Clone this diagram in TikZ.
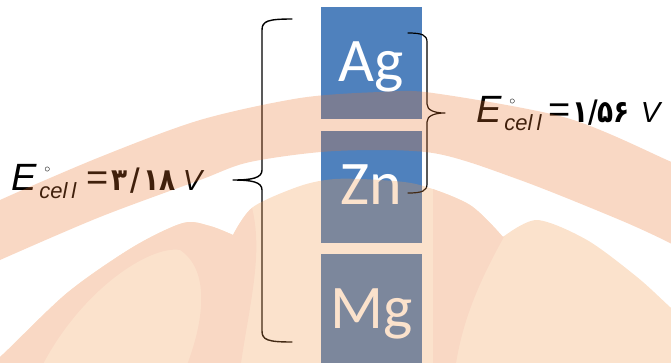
\documentclass[tikz,border=0pt]{standalone}
\usepackage{fontspec}
\setmainfont{Liberation Sans}
\newfontfamily\boxfont{Carlito}
\newfontfamily\arabicfont[Script=Arabic]{DejaVu Sans}
\usetikzlibrary{positioning}

\definecolor{cellblue}{RGB}{79,129,189}
\definecolor{wmdark}{RGB}{233,116,44}
\definecolor{wmlight}{RGB}{241,151,73}

\tikzset{
	metal/.style={fill=cellblue, minimum width=101bp, minimum height=112bp, inner sep=0pt},
	symb/.style={text=white, font=\boxfont\fontsize{62bp}{62bp}\selectfont, inner sep=0pt, anchor=base},
	brace/.style={line width=1.4bp, line cap=round, line join=round},
	elabel/.style={anchor=base west, inner sep=0pt, font=\fontsize{38bp}{38bp}\selectfont},
}

\newcommand{\Ecell}{\textit{E}\hspace{2bp}\rlap{\hspace{5bp}\raisebox{18bp}{\fontsize{12bp}{12bp}\selectfont$\circ$}}\raisebox{-8bp}{\fontsize{22bp}{22bp}\selectfont\textit{cel\hspace{4bp}l}}}
\newcommand{\volt}[1]{\scalebox{0.85}[1]{\fontsize{31bp}{31bp}\selectfont\arabicfont\bfseries #1}}
\newcommand{\unitV}{{\fontsize{29bp}{29bp}\selectfont\textit{V}}}

\begin{document}
\begin{tikzpicture}[x=1bp, y=-1bp]
	\useasboundingbox (0,0) rectangle (671,362);
	
	% three metals, stacked
	\foreach \el/\yc in {Ag/63, Zn/186.5, Mg/310} {
		\node (\el) [metal] at (371.5,\yc) {};
		\node (\el-txt) [symb] at ([yshift=-18bp]\el.center) {\el};
	}
	
	% big brace: Ag ... Mg
	\coordinate (lb-top) at (292,19);
	\coordinate (lb-tip) at (233,180);
	\coordinate (lb-bot) at (292,342);
	\draw[brace] (lb-top) .. controls (268,19) and (262,21) .. (262,30) -- (262,170)
		.. controls (262,178) and (252,180) .. (lb-tip)
		.. controls (252,180) and (262,182) .. (262,190) -- (262,331)
		.. controls (262,340) and (268,342) .. (lb-bot);
	
	% small brace: Ag ... Zn
	\coordinate (rb-top) at (408,33);
	\coordinate (rb-tip) at (445,113);
	\coordinate (rb-bot) at (408,193);
	\draw[brace, line width=1.2bp] (rb-top) .. controls (422,33) and (427,35) .. (427,42) -- (427,104)
		.. controls (427,110) and (434,113) .. (rb-tip)
		.. controls (434,113) and (427,116) .. (427,122) -- (427,184)
		.. controls (427,191) and (422,193) .. (rb-bot);
	
	% the two cell voltages
	\node (e-big) [elabel] at (11.5,190) {\Ecell\hspace{10bp}=\hspace{2bp}\volt{۳\hspace{4bp}/\hspace{4bp}۱۸}\hspace{7bp}\unitV};
	\node (e-small) [elabel] at (476.5,122) {\Ecell\hspace{7bp}=\hspace{1bp}\volt{۱/۵۶}\hspace{11bp}\unitV};
	
	% watermark lying over everything
	\def\lowerpath{(-20,380) -- plot[smooth] coordinates {(-20,370) (0,357) (67,293) (133,247) (183,223) (210,226) (233,235)}
		-- plot[smooth] coordinates {(233,235) (253,207) (300,186) (335,179) (380,180) (420,185) (470,205) (503,237)}
		-- plot[smooth] coordinates {(503,237) (537,220) (587,240) (637,277) (670,307) (690,325)} -- (690,380) -- cycle}
	\begin{scope}[transparency group, opacity=0.28]
		\clip (0,0) rectangle (671,362);
		% arc band
		\fill[wmdark] plot[smooth] coordinates {(-20,212) (0,200) (100,157) (200,120) (300,98) (380,92) (433,93) (567,118) (667,160) (690,172)}
			-- plot[smooth] coordinates {(690,255) (670,243) (620,220) (520,180) (433,153) (335,151) (250,162) (200,180) (100,217) (0,260) (-20,270)} -- cycle;
		% petals
		\fill[wmlight] \lowerpath;
		\begin{scope}
			\clip \lowerpath;
			\fill[wmdark] (-20,300) -- (150,200) -- (250,200) .. controls (265,250) and (250,300) .. (240,370) -- (185,370)
				.. controls (205,320) and (210,270) .. (180,250) .. controls (150,245) and (80,290) .. (40,370) -- (-20,370) -- cycle;
			\fill[wmdark] (433,170) -- (505,170) -- (505,235) .. controls (480,280) and (462,320) .. (455,370) -- (433,370) -- cycle;
		\end{scope}
	\end{scope}
\end{tikzpicture}
\end{document}
